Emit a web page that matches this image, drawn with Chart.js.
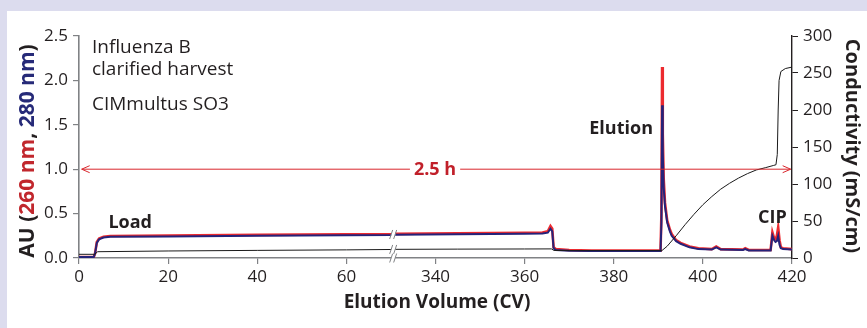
<!DOCTYPE html>
<html><head><meta charset="utf-8">
<script src="https://cdn.jsdelivr.net/npm/chart.js@4/dist/chart.umd.min.js"></script>
<style>
html,body{margin:0;padding:0;background:#dcdcee;width:867px;height:328px;overflow:hidden}
#wrap{position:absolute;left:7px;top:11px;width:860px;height:317px;background:#fff}
canvas{display:block}
</style></head><body>
<div id="wrap"><canvas id="c" width="860" height="317"></canvas></div>
<script>
// ---- data (elution volume in CV) ----
const cvAbs = [0,3.3,3.6,4.0,4.5,5.5,7,20,40,60,70,331,345,360,364,365.2,365.8,366.2,366.5,367,370,375,390.5,390.7,390.85,391.0,391.2,391.5,392,392.6,393,394,395,397,399,402,403,404,409,409.5,410.3,415.2,415.6,416.0,416.3,416.6,416.9,417.2,417.5,418,420];
const au260 = [0.01,0.01,0.05,0.18,0.22,0.24,0.248,0.252,0.26,0.266,0.27,0.272,0.278,0.284,0.286,0.30,0.36,0.33,0.12,0.10,0.09,0.083,0.083,0.5,2.15,1.4,0.9,0.62,0.42,0.32,0.27,0.2,0.17,0.13,0.11,0.1,0.13,0.1,0.095,0.11,0.09,0.09,0.29,0.22,0.21,0.25,0.345,0.2,0.12,0.11,0.1];
const au280 = [0.01,0.01,0.05,0.17,0.21,0.23,0.238,0.242,0.25,0.256,0.26,0.262,0.268,0.274,0.276,0.285,0.33,0.30,0.11,0.09,0.082,0.078,0.078,0.4,1.72,1.2,0.8,0.58,0.4,0.3,0.25,0.19,0.16,0.12,0.1,0.095,0.12,0.095,0.09,0.1,0.085,0.085,0.25,0.2,0.18,0.19,0.25,0.15,0.11,0.1,0.095];
const cvCond = [0,3.5,4.2,20,40,60,70,331,345,360,366,366.6,370,390.8,392,394,396,398,400,402,404,406,408,410,412,414,415.8,416.4,416.7,416.9,417.1,417.5,418.5,420];
const condMS = [5,5,8.5,9.5,10.3,11,11.5,11.7,12,12.2,12.3,10.2,10,10,16,30,45,59,72,83,93,101,108,114,119,122,125,126,140,200,240,252,256,258];
const xTickLabels = ['0','20','40','60','340','360','380','400','420'];
const auTicks = [0,0.5,1.0,1.5,2.0,2.5];
const condTicks = [0,50,100,150,200,250,300];

// axis break: 70.5 CV ... 330.5 CV are cut out
const BREAK_LO = 70.5, BREAK_HI = 330.5;
const disp = v => v <= BREAK_LO ? v : v - (BREAK_HI - BREAK_LO);
const pts = (xs, ys) => xs.map((v, i) => ({x: disp(v), y: ys[i]}));

const TXT = '#231f20', GRAY = '#808285', RED = '#ec2a2f', NAVY = '#25237a';
const FONT = '"Open Sans", "DejaVu Sans", sans-serif';

const deco = {
  id: 'deco',
  afterDatasetsDraw(chart) {
    const {ctx, chartArea: ca, scales: {x, y, y1}} = chart;
    ctx.save();
    // break marks
    const bx = x.getPixelForValue(BREAK_LO);
    const marks = [[ca.bottom, GRAY], [y1.getPixelForValue(11.6), GRAY], [y.getPixelForValue(0.265), GRAY]];
    for (const [py, col] of marks) {
      ctx.fillStyle = '#fff';
      ctx.fillRect(bx - 2, py - 4, 4, 8);
      ctx.strokeStyle = col; ctx.lineWidth = 1;
      ctx.beginPath();
      ctx.moveTo(bx - 3.5, py + 4.5); ctx.lineTo(bx - 0.5, py - 4.5);
      ctx.moveTo(bx + 0.5, py + 4.5); ctx.lineTo(bx + 3.5, py - 4.5);
      ctx.stroke();
    }
    // 2.5 h arrow
    const ay = y.getPixelForValue(1.0);
    const ax0 = x.getPixelForValue(0.6), ax1 = x.getPixelForValue(159.7);
    const lx = x.getPixelForValue(79.9);
    ctx.font = 'bold 18px ' + FONT;
    const lw = ctx.measureText('2.5 h').width;
    ctx.strokeStyle = '#d9262c'; ctx.lineWidth = 1;
    ctx.beginPath();
    ctx.moveTo(ax0, ay); ctx.lineTo(lx - lw / 2 - 4, ay);
    ctx.moveTo(lx + lw / 2 + 4, ay); ctx.lineTo(ax1, ay);
    ctx.moveTo(ax0 + 8, ay - 3.5); ctx.lineTo(ax0, ay); ctx.lineTo(ax0 + 8, ay + 3.5);
    ctx.moveTo(ax1 - 8, ay - 3.5); ctx.lineTo(ax1, ay); ctx.lineTo(ax1 - 8, ay + 3.5);
    ctx.stroke();
    ctx.fillStyle = '#c1202a'; ctx.textAlign = 'center'; ctx.textBaseline = 'middle';
    ctx.fillText('2.5 h', lx, ay + 0.5);
    // annotations
    ctx.fillStyle = TXT; ctx.textBaseline = 'alphabetic'; ctx.textAlign = 'left';
    ctx.font = '19px ' + FONT;
    ctx.fillText('Influenza B', x.getPixelForValue(2.9), y.getPixelForValue(2.305));
    ctx.fillText('clarified harvest', x.getPixelForValue(2.9), y.getPixelForValue(2.06));
    ctx.fillText('CIMmultus SO3', x.getPixelForValue(2.9), y.getPixelForValue(1.667));
    ctx.font = 'bold 18px ' + FONT;
    ctx.fillText('Load', x.getPixelForValue(6.6), y.getPixelForValue(0.334));
    ctx.textAlign = 'right';
    ctx.fillText('Elution', x.getPixelForValue(128.8), y.getPixelForValue(1.393));
    ctx.textAlign = 'center';
    ctx.fillText('CIP', x.getPixelForValue(155.6), y.getPixelForValue(0.39));
    // x title
    ctx.font = 'bold 19px ' + FONT;
    ctx.fillText('Elution Volume (CV)', 430, 297);
    // left title (two colours)
    ctx.font = 'bold 21px ' + FONT;
    const parts = [['AU (', TXT], ['260 nm', '#c1272d'], [', ', TXT], ['280 nm', '#262a78'], [')', TXT]];
    const total = parts.reduce((s, p) => s + ctx.measureText(p[0]).width, 0);
    ctx.translate(26.5, 140); ctx.rotate(-Math.PI / 2);
    ctx.textAlign = 'left';
    let cx = -total / 2;
    for (const [t, c] of parts) { ctx.fillStyle = c; ctx.fillText(t, cx, 0); cx += ctx.measureText(t).width; }
    ctx.setTransform(1, 0, 0, 1, 0, 0);
    // right title
    ctx.font = 'bold 20px ' + FONT;
    ctx.fillStyle = TXT; ctx.textAlign = 'center';
    ctx.translate(839, 135); ctx.rotate(Math.PI / 2);
    ctx.fillText('Conductivity (mS/cm)', 0, 0);
    ctx.restore();
  }
};

const tickFont = {family: FONT, size: 17};
new Chart(document.getElementById('c'), {
  type: 'line',
  data: {datasets: [
    {label: 'Conductivity', data: pts(cvCond, condMS), yAxisID: 'y1', borderColor: '#1a1a1a', borderWidth: 1, pointRadius: 0, tension: 0},
    {label: '280 nm', data: pts(cvAbs, au280), yAxisID: 'y', borderColor: NAVY, borderWidth: 2, pointRadius: 0, tension: 0},
    {label: '260 nm', data: pts(cvAbs, au260), yAxisID: 'y', borderColor: RED, borderWidth: 2.6, pointRadius: 0, tension: 0}
  ]},
  options: {
    responsive: false, animation: false, devicePixelRatio: 1,
    layout: {padding: {top: 25, left: 0, right: 0, bottom: 0}},
    plugins: {legend: {display: false}, tooltip: {enabled: false}},
    scales: {
      x: {
        type: 'linear', min: 0, max: 160,
        afterBuildTicks: s => { s.ticks = xTickLabels.map((_, i) => ({value: i * 20})); },
        ticks: {callback: (v) => xTickLabels[Math.round(v / 20)], font: tickFont, color: TXT, padding: 3, maxRotation: 0, autoSkip: false},
        grid: {drawOnChartArea: false, drawTicks: true, tickLength: 6, color: GRAY, lineWidth: 1.2},
        border: {color: GRAY, width: 1.6},
        afterFit: s => { s.height = 70; }
      },
      y: {
        position: 'left', min: 0, max: 2.5,
        afterBuildTicks: s => { s.ticks = auTicks.map(v => ({value: v})); },
        ticks: {callback: v => v.toFixed(1), font: tickFont, color: TXT, padding: 5},
        grid: {drawOnChartArea: false, drawTicks: true, tickLength: 6, color: GRAY, lineWidth: 1.2},
        border: {color: GRAY, width: 1.6},
        afterFit: s => { s.width = 72; }
      },
      y1: {
        position: 'right', min: 0, max: 300,
        afterBuildTicks: s => { s.ticks = condTicks.map(v => ({value: v})); },
        ticks: {font: tickFont, color: TXT, padding: 5},
        grid: {drawOnChartArea: false, drawTicks: true, tickLength: 6, color: '#231f20', lineWidth: 1},
        border: {color: '#231f20', width: 1.4},
        afterFit: s => { s.width = 75; }
      }
    }
  },
  plugins: [deco]
});
</script>
</body></html>
